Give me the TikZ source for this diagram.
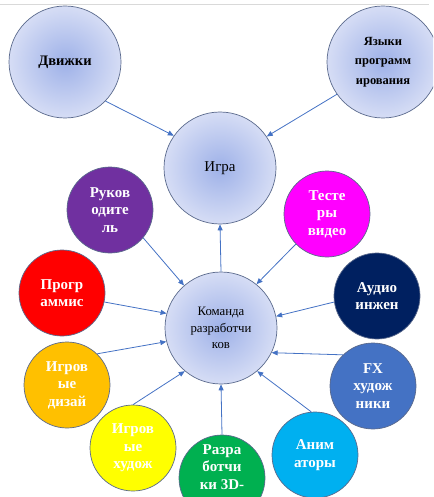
\documentclass[tikz,border=0pt]{standalone}
\usepackage{fontspec}
\setmainfont{Liberation Serif}
\usetikzlibrary{arrows.meta}

\definecolor{ballin}{RGB}{158,177,232}
\definecolor{ballout}{RGB}{214,221,245}
\definecolor{rim}{RGB}{90,105,140}
\definecolor{arrowblue}{RGB}{68,114,196}
\definecolor{ldrpurple}{HTML}{7030A0}
\definecolor{testpink}{HTML}{FF00FF}
\definecolor{progred}{HTML}{FF0000}
\definecolor{audionavy}{HTML}{002060}
\definecolor{designorange}{HTML}{FFC000}
\definecolor{fxblue}{HTML}{4472C4}
\definecolor{artyellow}{HTML}{FFFF00}
\definecolor{devgreen}{HTML}{00B050}
\definecolor{animcyan}{HTML}{00B0F0}

\begin{document}
\begin{tikzpicture}[x=1pt,y=-1pt,
    lightball/.style={circle,draw=rim,line width=0.7pt,inner color=ballin,outer color=ballout,
        minimum size=112pt,inner sep=0pt,align=center,font=\fontsize{12.8}{16.5}\selectfont},
    colorball/.style={circle,draw=rim,line width=0.7pt,fill=#1,text=white,
        minimum size=86pt,inner sep=0pt,align=center,font=\fontsize{15}{17.5}\selectfont\bfseries},
    link/.style={draw=arrowblue,line width=0.8pt,-{Triangle[length=6pt,width=5pt]}}]
    \clip (0,0) rectangle (433,497);
    \draw[gray!30] (0,4) -- (429,4);

    \node[lightball,font=\fontsize{14.5}{17}\selectfont\bfseries] (engines) at (65,62) {Движки};
    \node[lightball,font=\fontsize{12.5}{19.5}\selectfont\bfseries] (langs) at (383,62) {Языки\\программ\\ирования};
    \node[lightball,font=\fontsize{15}{17}\selectfont] (game) at (220,168) {Игра};
    \node[lightball] (team) at (221,328) {Команда\\разработчи\\ков};

    \draw[link] (engines.-44) -- (game.145);
    \draw[link] (langs.215) -- (game.34);
    \draw[link] (team.north) -- (game.south);

    \node[colorball=ldrpurple] (lead) at (110,210) {Руков\\одите\\ль};
    \node[colorball=testpink] (testers) at (327,214) {Тесте\\ры\\видео};
    \node[colorball=progred] (prog) at (62,293) {Прогр\\аммис};
    \node[colorball=audionavy] (audio) at (377,296) {Аудио\\инжен};
    \node[colorball=designorange] (design) at (67,385) {Игров\\ые\\дизай};
    \node[colorball=fxblue] (fx) at (373,386) {FX\\худож\\ники};
    \node[colorball=artyellow] (artists) at (133,448) {Игров\\ые\\худож};
    \node[colorball=devgreen] (dev3d) at (222,478)
        {\raisebox{6pt}[0pt][0pt]{\begin{tabular}{@{}c@{}}Разра\\ботчи\\ки 3D-\end{tabular}}};
    \node[colorball=animcyan] (anim) at (315,455) {Аним\\аторы};

    \draw[link] (lead.-40) -- (team.131);
    \draw[link] (testers.224) -- (team.51);
    \draw[link] (prog.-12) -- (team.165);
    \draw[link] (audio.188) -- (team.12);
    \draw[link] (design.46) -- (team.194);
    \draw[link] (fx.134) -- (team.-26);
    \draw[link] (artists.north) -- (team.230);
    \draw[link] (dev3d.north) -- (team.south);
    \draw[link] (anim.95) -- (team.-50);
\end{tikzpicture}
\end{document}
